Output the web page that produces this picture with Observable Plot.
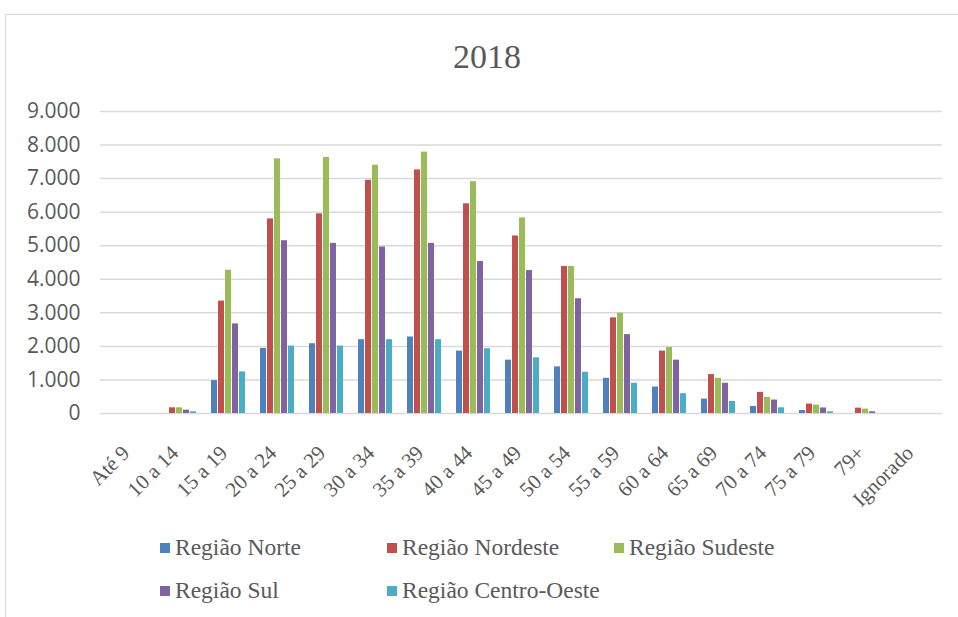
<!DOCTYPE html>
<html>
<head>
<meta charset="utf-8">
<script src="https://cdn.jsdelivr.net/npm/d3@7"></script>
<script src="https://cdn.jsdelivr.net/npm/@observablehq/plot@0.6"></script>
<style>
  html, body { margin: 0; padding: 0; background: #fff; width: 958px; height: 617px; overflow: hidden; }
  #frame { position: absolute; left: 5px; top: 14px; width: 970px; height: 620px; border: 1.5px solid #d9d9d9; box-sizing: border-box; }
  #title { position: absolute; left: 0; width: 974px; top: 39.5px; text-align: center; font-family: 'Liberation Serif', serif; font-size: 34px; line-height: 1; color: #595959; }
  #back, #chart { position: absolute; left: 0; top: 90px; }
  .lg { position: absolute; font-family: 'Liberation Serif', serif; font-size: 23.5px; color: #595959; line-height: 1; white-space: nowrap; }
  .lg span.sw { display: inline-block; width: 10px; height: 10px; margin-right: 5px; vertical-align: 2px; }
</style>
</head>
<body>
<div id="frame"></div>
<div id="title">2018</div>
<div id="back"></div>
<div id="chart"></div>
<div id="legend"></div>
<script>
const ages = ["Até 9","10 a 14","15 a 19","20 a 24","25 a 29","30 a 34","35 a 39","40 a 44","45 a 49","50 a 54","55 a 59","60 a 64","65 a 69","70 a 74","75 a 79","79+","Ignorado"];
const regions = ["Região Norte","Região Nordeste","Região Sudeste","Região Sul","Região Centro-Oeste"];
const colors = ["#4F81BD","#C0504D","#9BBB59","#8064A2","#4BACC6"];
const norte       = [0,   0,  980, 1940, 2080, 2200, 2280, 1860, 1590, 1390, 1050,  790,  430, 210,  90,   0, 0];
const nordeste    = [0, 170, 3350, 5800, 5950, 6950, 7260, 6250, 5290, 4380, 2850, 1860, 1160, 630, 280, 160, 0];
const sudeste     = [0, 170, 4270, 7590, 7630, 7400, 7790, 6910, 5830, 4380, 2990, 1970, 1050, 480, 250, 130, 0];
const sul         = [0, 100, 2670, 5150, 5070, 4960, 5070, 4530, 4260, 3420, 2350, 1590,  900, 400, 165,  50, 0];
const centroOeste = [0,  50, 1240, 2010, 2010, 2200, 2200, 1930, 1660, 1230,  900,  590,  360, 170,  50,   0, 0];
const yTicks = [0,1000,2000,3000,4000,5000,6000,7000,8000,9000];

const series = [norte, nordeste, sudeste, sul, centroOeste];
const data = [];
ages.forEach((a, i) => regions.forEach((r, j) => data.push({age: a, region: r, value: series[j][i]})));

const fmt = d3.formatLocale({decimal: ",", thousands: ".", grouping: [3], currency: ["R$", ""]}).format(",d");

const dims = {width: 958, height: 413, marginTop: 21, marginBottom: 90, marginLeft: 100, marginRight: 16};
const font = {fontFamily: "'Liberation Serif', serif", color: "#595959", background: "transparent", overflow: "visible"};

// Background: y axis and gridlines spanning the full plot width
const back = Plot.plot({
  ...dims,
  style: font,
  y: {domain: [0, 9000]},
  marks: [
    Plot.ruleY(yTicks, {stroke: "#d9d9d9", strokeWidth: 1.5}),
    Plot.axisY({ticks: yTicks, tickFormat: fmt, tickSize: 0, tickPadding: 20, label: null, fontSize: 21, fontFamily: "'Open Sans', sans-serif"})
  ]
});
document.getElementById("back").appendChild(back);

// Foreground: grouped bars, faceted by age group
const chart = Plot.plot({
  ...dims,
  style: font,
  fx: {domain: ages, paddingInner: 0.25, paddingOuter: 0.125},
  x: {domain: regions, axis: null, padding: 0.15},
  y: {domain: [0, 9000], axis: null},
  color: {domain: regions, range: colors},
  marks: [
    Plot.barY(data, {fx: "age", x: "region", y: "value", fill: "region"}),
    Plot.axisFx({anchor: "bottom", label: null, tickRotate: -45, tickSize: 0, tickPadding: 36, fontSize: 21, dx: -4})
  ]
});
document.getElementById("chart").appendChild(chart);

const legend = document.getElementById("legend");
regions.forEach((r, i) => {
  const row = Math.floor(i / 3), col = i % 3;
  const d = document.createElement("div");
  d.className = "lg";
  d.style.left = (160 + col * 227) + "px";
  d.style.top = (536 + row * 43) + "px";
  d.innerHTML = `<span class="sw" style="background:${colors[i]}"></span>${r}`;
  legend.appendChild(d);
});
</script>
</body>
</html>
